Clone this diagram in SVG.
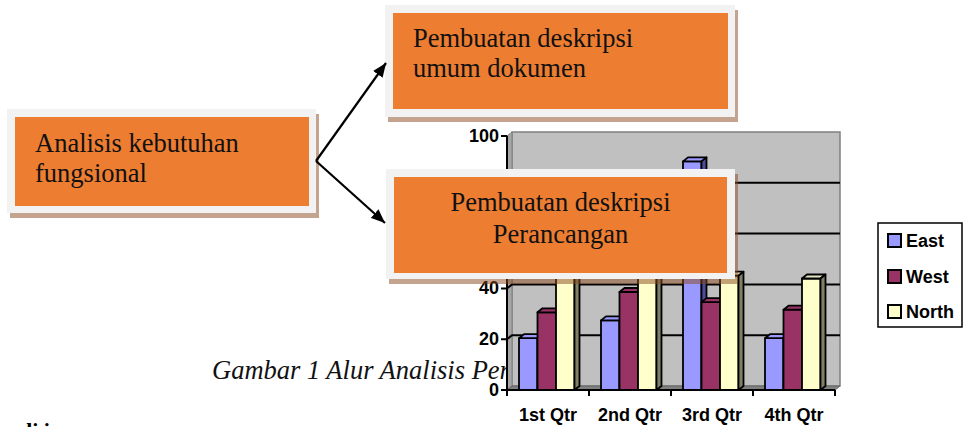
<svg xmlns="http://www.w3.org/2000/svg" width="963" height="427" viewBox="0 0 963 427">
  <style>
    .frame { fill: #F2F2F2; }
    .fill { fill: #ED7D31; }
    .shadow { fill: #8A4A1E; opacity: 0.5; }
    .label { font-family: "Liberation Serif", "Times New Roman", serif; font-size: 26.5px; fill: #111; }
    .caption { font-family: "Liberation Serif", "Times New Roman", serif; font-size: 26.5px; font-style: italic; fill: #111; }
    .link { stroke: #000; stroke-width: 2.2; fill: none; }
    .ax { font-family: "Liberation Sans", Arial, sans-serif; font-size: 18px; font-weight: bold; fill: #000; }
    .wall { fill: #C0C0C0; stroke: #808080; stroke-width: 1.5; }
    .side { fill: #A6A6A6; stroke: #808080; stroke-width: 1; }
    .floor { fill: #808080; stroke: #666; stroke-width: 1; }
    .grid { stroke: #000; stroke-width: 2; fill: none; }
    .axis { stroke: #000; stroke-width: 2; fill: none; }
    .bar polygon, .bar rect { stroke: #000; stroke-width: 1.8; stroke-linejoin: round; }
    .east .f, .east .t { fill: #9999FF; }
    .east .s { fill: #4D4D99; }
    .west .f, .west .t { fill: #993366; }
    .west .s { fill: #4D1A33; }
    .north .f { fill: #FFFFCC; }
    .north .t { fill: #E6E6C0; }
    .north .s { fill: #808066; }
  </style>
  <defs>
    <marker id="arrow" viewBox="0 0 12 10" refX="12" refY="5" markerWidth="14" markerHeight="12" markerUnits="userSpaceOnUse" orient="auto">
      <path d="M0,0 L12,5 L0,10 Z" fill="#000"/>
    </marker>
  </defs>

  <!-- figure caption (partly covered by the chart) -->
  <text class="caption" x="212" y="379">Gambar 1 Alur Analisis Per</text>
  <text x="20" y="438" font-family="Liberation Serif, serif" font-size="22" font-weight="bold" fill="#000">di i</text>

  <g id="node-analisis">
    <rect class="shadow" x="10" y="114" width="309" height="104"/>
    <rect class="frame" x="7" y="109" width="309" height="104"/>
    <rect class="fill" x="15" y="117" width="294" height="89"/>
    <text class="label" x="35" y="152">Analisis kebutuhan</text>
    <text class="label" x="35" y="182">fungsional</text>
  </g>

  <g id="node-umum">
    <rect class="shadow" x="388" y="10" width="350" height="112"/>
    <rect class="frame" x="385" y="5" width="350" height="112"/>
    <rect class="fill" x="393" y="13" width="335" height="96"/>
    <text class="label" x="413" y="47">Pembuatan deskripsi</text>
    <text class="label" x="413" y="77">umum dokumen</text>
  </g>

  <g id="connectors">
    <line class="link" x1="316" y1="161" x2="386" y2="63" marker-end="url(#arrow)"/>
    <line class="link" x1="316" y1="161" x2="385" y2="223" marker-end="url(#arrow)"/>
  </g>

  <!-- 3D column chart -->
  <g id="chart">
    <rect class="wall" x="512" y="132" width="328" height="254"/>
    <polygon class="side" points="507,136 512,132 512,386 507,390"/>
    <polygon class="floor" points="507,390 512,386 840,386 835,390"/>
    <g class="grid">
      <polyline points="507,339.2 512,335.2 840,335.2"/>
      <polyline points="507,288.4 512,284.4 840,284.4"/>
      <polyline points="507,237.6 512,233.6 840,233.6"/>
      <polyline points="507,186.8 512,182.8 840,182.8"/>
    </g>

    <!-- 1st Qtr -->
    <g class="bar east"><rect class="f" x="519" y="338.2" width="18.5" height="51.8"/><polygon class="t" points="519,338.2 524,334.2 542.5,334.2 537.5,338.2"/><polygon class="s" points="537.5,338.2 542.5,334.2 542.5,386 537.5,390"/></g>
    <g class="bar west"><rect class="f" x="537.5" y="312.3" width="18.5" height="77.7"/><polygon class="t" points="537.5,312.3 542.5,308.3 561,308.3 556,312.3"/><polygon class="s" points="556,312.3 561,308.3 561,386 556,390"/></g>
    <g class="bar north"><rect class="f" x="556" y="273.4" width="18.5" height="116.6"/><polygon class="t" points="556,273.4 561,269.4 579.5,269.4 574.5,273.4"/><polygon class="s" points="574.5,273.4 579.5,269.4 579.5,386 574.5,390"/></g>
    <!-- 2nd Qtr -->
    <g class="bar east"><rect class="f" x="601" y="320.4" width="18.5" height="69.6"/><polygon class="t" points="601,320.4 606,316.4 624.5,316.4 619.5,320.4"/><polygon class="s" points="619.5,320.4 624.5,316.4 624.5,386 619.5,390"/></g>
    <g class="bar west"><rect class="f" x="619.5" y="292" width="18.5" height="98"/><polygon class="t" points="619.5,292 624.5,288 643,288 638,292"/><polygon class="s" points="638,292 643,288 643,386 638,390"/></g>
    <g class="bar north"><rect class="f" x="638" y="270.9" width="18.5" height="119.1"/><polygon class="t" points="638,270.9 643,266.9 661.5,266.9 656.5,270.9"/><polygon class="s" points="656.5,270.9 661.5,266.9 661.5,386 656.5,390"/></g>
    <!-- 3rd Qtr -->
    <g class="bar east"><rect class="f" x="683" y="161.4" width="18.5" height="228.6"/><polygon class="t" points="683,161.4 688,157.4 706.5,157.4 701.5,161.4"/><polygon class="s" points="701.5,161.4 706.5,157.4 706.5,386 701.5,390"/></g>
    <g class="bar west"><rect class="f" x="701.5" y="302.1" width="18.5" height="87.9"/><polygon class="t" points="701.5,302.1 706.5,298.1 725,298.1 720,302.1"/><polygon class="s" points="720,302.1 725,298.1 725,386 720,390"/></g>
    <g class="bar north"><rect class="f" x="720" y="275.7" width="18.5" height="114.3"/><polygon class="t" points="720,275.7 725,271.7 743.5,271.7 738.5,275.7"/><polygon class="s" points="738.5,275.7 743.5,271.7 743.5,386 738.5,390"/></g>
    <!-- 4th Qtr -->
    <g class="bar east"><rect class="f" x="765" y="338.2" width="18.5" height="51.8"/><polygon class="t" points="765,338.2 770,334.2 788.5,334.2 783.5,338.2"/><polygon class="s" points="783.5,338.2 788.5,334.2 788.5,386 783.5,390"/></g>
    <g class="bar west"><rect class="f" x="783.5" y="309.7" width="18.5" height="80.3"/><polygon class="t" points="783.5,309.7 788.5,305.7 807,305.7 802,309.7"/><polygon class="s" points="802,309.7 807,305.7 807,386 802,390"/></g>
    <g class="bar north"><rect class="f" x="802" y="278.5" width="18.5" height="111.5"/><polygon class="t" points="802,278.5 807,274.5 825.5,274.5 820.5,278.5"/><polygon class="s" points="820.5,278.5 825.5,274.5 825.5,386 820.5,390"/></g>

    <!-- axes and ticks -->
    <g class="axis">
      <line x1="507" y1="136" x2="507" y2="391"/>
      <line x1="506" y1="390" x2="835" y2="390"/>
      <path d="M501,390H507M501,339.2H507M501,288.4H507M501,237.6H507M501,186.8H507M501,136H507"/>
      <path d="M507,390V396M589,390V396M671,390V396M753,390V396M835,390V396"/>
    </g>
    <g class="ax" text-anchor="end">
      <text x="499" y="396">0</text>
      <text x="499" y="345">20</text>
      <text x="499" y="294">40</text>
      <text x="499" y="142">100</text>
    </g>
    <g class="ax" text-anchor="middle">
      <text x="548" y="421">1st Qtr</text>
      <text x="630" y="421">2nd Qtr</text>
      <text x="712" y="421">3rd Qtr</text>
      <text x="794" y="421">4th Qtr</text>
    </g>

    <g id="legend">
      <rect x="878" y="223" width="84" height="104" fill="#fff" stroke="#000" stroke-width="1.5"/>
      <rect x="888" y="234" width="13" height="13" fill="#9999FF" stroke="#000" stroke-width="2"/>
      <rect x="888" y="270" width="13" height="13" fill="#993366" stroke="#000" stroke-width="2"/>
      <rect x="888" y="305" width="13" height="13" fill="#FFFFCC" stroke="#000" stroke-width="2"/>
      <text class="ax" x="906" y="247">East</text>
      <text class="ax" x="906" y="283">West</text>
      <text class="ax" x="906" y="318">North</text>
    </g>
  </g>

  <g id="node-perancangan">
    <rect class="shadow" x="389" y="174" width="349" height="110"/>
    <rect class="frame" x="386" y="169" width="349" height="110"/>
    <rect class="fill" x="394" y="177" width="333" height="96"/>
    <text class="label" x="560.5" y="211" text-anchor="middle">Pembuatan deskripsi</text>
    <text class="label" x="560.5" y="243" text-anchor="middle">Perancangan</text>
  </g>
</svg>
